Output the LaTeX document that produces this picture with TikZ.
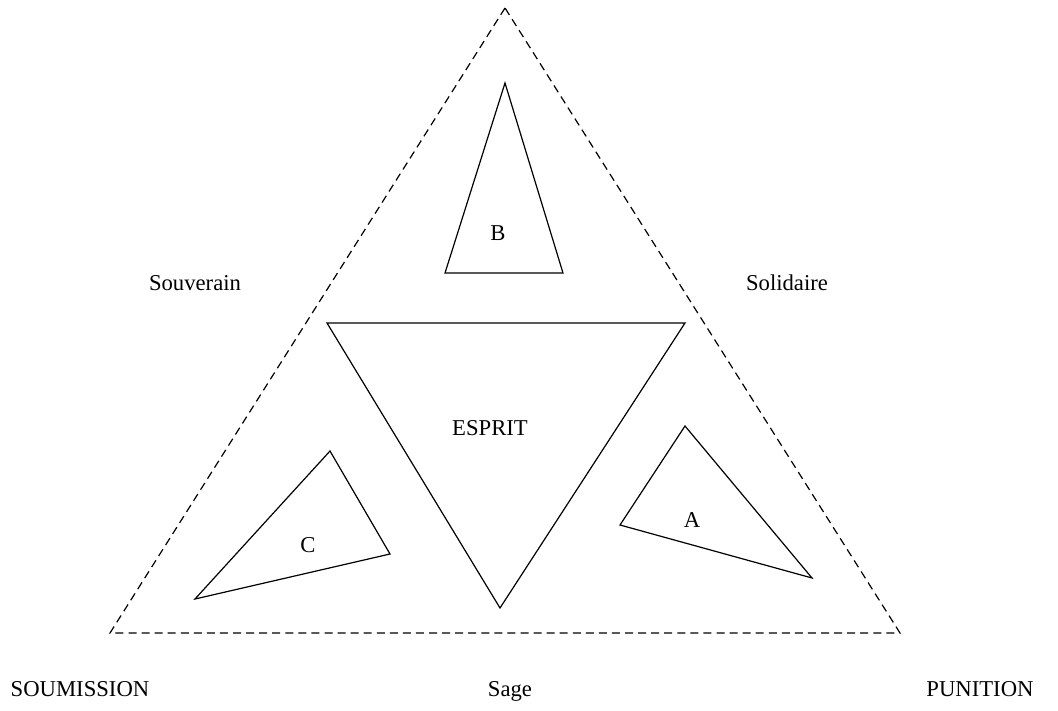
\documentclass[tikz,border=0pt]{standalone}
\usepackage{fontspec}
\setmainfont{Liberation Serif}
\usepackage{tikz}

\begin{document}
\begin{tikzpicture}[x=0.75pt,y=-0.75pt,
    lbl/.style={font=\fontsize{17}{20}\selectfont,inner sep=0pt},
    base/.style={lbl,anchor=base},
    tri/.style={draw,line width=0.9pt,line join=miter},
    outer/.style={draw,dash pattern=on 6pt off 3.8pt,line width=0.9pt}]
    \useasboundingbox (0,0) rectangle (1058,711);

    % outer triangle
    \coordinate (top) at (505,8);
    \coordinate (bl) at (110,633);
    \coordinate (br) at (900,633);
    \draw[outer] (top) -- (bl) -- (br) -- cycle;

    % inner triangles
    \coordinate (b1) at (505,83);
    \coordinate (b2) at (445,273);
    \coordinate (b3) at (563,273);
    \draw[tri] (b1) -- (b2) -- (b3) -- cycle;

    \coordinate (e1) at (327,323);
    \coordinate (e2) at (685,323);
    \coordinate (e3) at (500,608);
    \draw[tri] (e1) -- (e2) -- (e3) -- cycle;

    \coordinate (a1) at (685,426);
    \coordinate (a2) at (620,525);
    \coordinate (a3) at (812,578);
    \draw[tri] (a1) -- (a2) -- (a3) -- cycle;

    \coordinate (c1) at (330,451);
    \coordinate (c2) at (390,554);
    \coordinate (c3) at (195,599);
    \draw[tri] (c1) -- (c2) -- (c3) -- cycle;

    % labels
    \node[lbl] (B) at (498,233) {B};
    \node[lbl] (esprit) at (490,428) {ESPRIT};
    \node[lbl] (A) at (692,520) {A};
    \node[lbl] (C) at (308,545) {C};
    \node[base] (souv) at (195,290) {Souverain};
    \node[base] (soli) at (787,290) {Solidaire};
    \node[base] (soum) at (80,696) {SOUMISSION};
    \node[base] (sage) at (510,696) {Sage};
    \node[base] (puni) at (980,696) {PUNITION};
\end{tikzpicture}
\end{document}
